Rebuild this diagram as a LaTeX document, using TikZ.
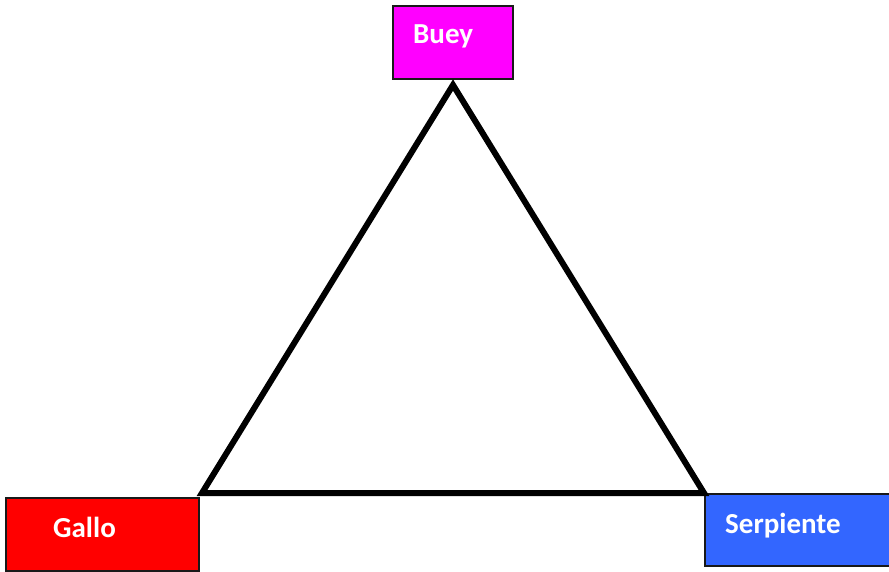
\documentclass[tikz,border=0pt]{standalone}
\usepackage{fontspec}
\setmainfont{Carlito}
\definecolor{bueycol}{RGB}{255,0,255}
\definecolor{gallocol}{RGB}{255,0,0}
\definecolor{serpcol}{RGB}{51,102,255}
\tikzset{
    caja/.style={draw=black!90, line width=1.1pt, rectangle, inner sep=0pt},
    nombre/.style={text=white, font=\bfseries\fontsize{29}{32}\selectfont, anchor=base west, inner sep=0pt}
}
\begin{document}
\begin{tikzpicture}[x=1pt,y=-1pt]
        \useasboundingbox (0,0) rectangle (889,572);
        % cajas
        \node[caja, fill=bueycol, minimum width=120pt, minimum height=73pt] (buey) at (453,42.5) {};
        \node[caja, fill=gallocol, minimum width=193pt, minimum height=73pt] (gallo) at (102.5,534.5) {};
        \node[caja, fill=serpcol, minimum width=186pt, minimum height=72pt] (serpiente) at (798,530) {};
        \node[nombre] (tbuey) at (413,43.5) {Buey};
        \node[nombre] (tgallo) at (53,537) {Gallo};
        \node[nombre] (tserpiente) at (725,533) {Serpiente};
        % triangulo
        \coordinate (arriba) at (453,85);
        \coordinate (izq) at (202,493);
        \coordinate (der) at (704,493);
        \draw[line width=6pt, miter limit=10] (arriba) -- (der) -- (izq) -- cycle;
    \end{tikzpicture}
\end{document}
